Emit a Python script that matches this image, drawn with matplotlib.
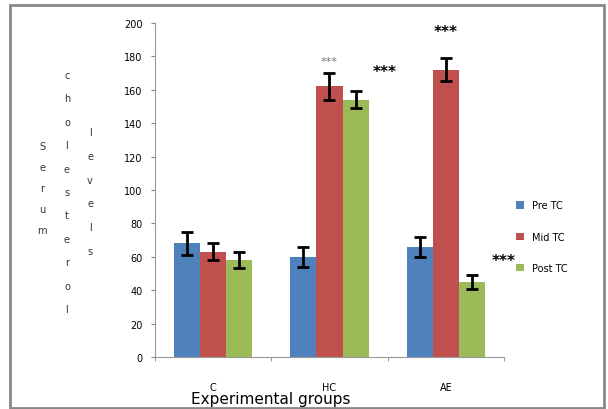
import numpy as np
import matplotlib
matplotlib.use('Agg')
import matplotlib.pyplot as plt
from matplotlib.patches import Rectangle

# 資料
groups = ['C', 'HC', 'AE']
series = ['Pre TC', 'Mid TC', 'Post TC']
pre_tc = [68, 60, 66]
mid_tc = [63, 162, 172]
post_tc = [58, 154, 45]
pre_err = [7, 6, 6]
mid_err = [5, 8, 7]
post_err = [5, 5, 4]
colors = ['#4F81BD', '#C0504D', '#9BBB59']

# 顯著性標記 (group index, series index, y)
stars_pos = [(1, 1, 177), (1, 2, 171), (2, 1, 195), (2, 2, 58)]

plt.rcParams['font.family'] = ['DejaVu Sans']

fig = plt.figure(figsize=(6.08, 4.10), dpi=100)
ax = fig.add_axes([155 / 608, 1 - 358 / 410, 349 / 608, 334 / 410])

x = np.arange(len(groups))
w = 0.225
values = [pre_tc, mid_tc, post_tc]
errs = [pre_err, mid_err, post_err]
for i, (vals, err) in enumerate(zip(values, errs)):
    ax.bar(x + (i - 1) * w, vals, w, color=colors[i], label=series[i],
           yerr=err, error_kw=dict(ecolor='black', elinewidth=2, capsize=4, capthick=2))

for gi, si, yv in stars_pos:
    xs = gi + (si - 1) * w
    if gi == 1 and si == 1:
        ax.text(xs, yv, '***', ha='center', va='center', fontsize=8, color='#777777')
    elif gi == 2 and si == 2:
        ax.text(xs + 0.27, yv, '***', ha='center', va='center', fontsize=11,
                fontweight='bold', color='black')
    else:
        ax.text(xs + (0.25 if si == 2 else 0), yv, '***', ha='center', va='center',
                fontsize=11, fontweight='bold', color='black')

ax.set_xlim(-0.5, 2.5)
ax.set_ylim(0, 200)
ax.set_yticks(range(0, 201, 20))
ax.tick_params(axis='y', labelsize=7, length=3, color='#888888', pad=6)
ax.set_xticks(x)
ax.set_xticklabels(groups, fontsize=7)
ax.tick_params(axis='x', length=0, pad=18)
ax.set_xticks([-0.5, 0.5, 1.5, 2.5], minor=True)
ax.tick_params(axis='x', which='minor', length=3, color='#888888')
for s in ['top', 'right']:
    ax.spines[s].set_visible(False)
for s in ['left', 'bottom']:
    ax.spines[s].set_color('#999999')

fig.text(271 / 608, 1 - 400 / 410, 'Experimental groups', ha='center', va='center', fontsize=11)

# 直排的 y 軸標籤
ylabel_words = ['Serum', 'cholesterol', 'levels']
word_x = [42, 67, 90]
word_y0 = [147, 76, 133]
word_step = [21, 23.4, 23.8]
for word, wx, wy, st in zip(ylabel_words, word_x, word_y0, word_step):
    for k, ch in enumerate(word):
        fig.text(wx / 608, 1 - (wy + k * st) / 410, ch, ha='center', va='center',
                 fontsize=7, color='#333333')

ax.legend(loc='center left', bbox_to_anchor=(1.01, 0.36), frameon=False, fontsize=7,
          handlelength=0.8, handleheight=0.8, labelspacing=2.2)

# 外框
fig.patches.append(Rectangle((10 / 608, 1 / 410), 594 / 608, 403 / 410, transform=fig.transFigure,
                             fill=False, edgecolor='#888888', linewidth=2))

fig.savefig('out.png', dpi=100)
